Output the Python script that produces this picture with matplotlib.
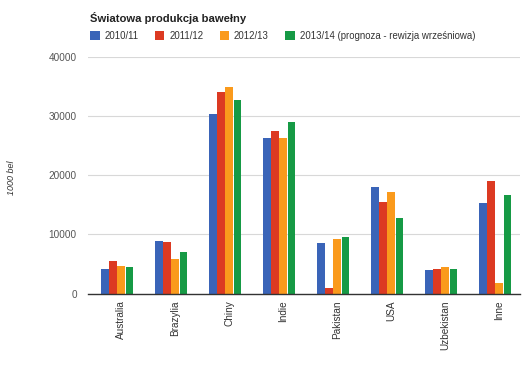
import numpy as np
import matplotlib
matplotlib.use('Agg')
import matplotlib.pyplot as plt

plt.rcParams['font.family'] = ['Liberation Sans', 'DejaVu Sans']

# dane (1000 bel)
kraje = ['Australia', 'Brazylia', 'Chiny', 'Indie', 'Pakistan', 'USA', 'Uzbekistan', 'Inne']
sezony = ['2010/11', '2011/12', '2012/13', '2013/14 (prognoza - rewizja wrześniowa)']
s2010 = [4100, 8900, 30400, 26250, 8550, 18050, 4000, 15350]
s2011 = [5450, 8700, 34000, 27400, 950, 15450, 4100, 19100]
s2012 = [4600, 5800, 34850, 26350, 9250, 17200, 4500, 1750]
s2013 = [4500, 7050, 32800, 28950, 9600, 12800, 4150, 16700]
kolory = ['#3a64b8', '#dc3a22', '#fa9a1c', '#169a45']

fig = plt.figure(figsize=(5.28, 3.73), dpi=100)
ax = fig.add_axes([88 / 528, 1 - 293.5 / 373, 432 / 528, 236.5 / 373])

x = np.arange(len(kraje))
w = 0.153
for i, (dane, kol) in enumerate(zip([s2010, s2011, s2012, s2013], kolory)):
    ax.bar(x + (i - 1.5) * w + 0.04, dane, width=w * 0.93, color=kol, label=sezony[i], zorder=3)

ax.set_xlim(-0.5, len(kraje) - 0.5)
ax.set_ylim(0, 40000)
ax.set_yticks([0, 10000, 20000, 30000, 40000])
ax.set_yticklabels(['0', '10000', '20000', '30000', '40000'], color='#555555', fontsize=7.2)
ax.set_xticks(x + 0.12)
ax.set_xticklabels(kraje, rotation=90, fontsize=7.2, color='#333333')
ax.tick_params(axis='x', length=0, pad=5)
ax.tick_params(axis='y', length=0, pad=8)
ax.grid(axis='y', color='#d8d8d8', linewidth=0.8, zorder=0)
for s in ['top', 'right', 'left']:
    ax.spines[s].set_visible(False)
ax.spines['bottom'].set_color('#333333')
ax.spines['bottom'].set_linewidth(1.0)
ax.spines['bottom'].set_zorder(4)

fig.text(12 / 528, 1 - 178 / 373, '1000 bel', rotation=90, style='italic',
         fontsize=6.5, color='#333333', ha='center', va='center')
fig.text(90 / 528, 1 - 18 / 373, 'Światowa produkcja bawełny', fontsize=8.1,
         fontweight='bold', color='#222222', ha='left', va='center')

ax.legend(loc='center left', bbox_to_anchor=(90 / 528, 1 - 36 / 373),
          bbox_transform=fig.transFigure, ncol=4, frameon=False,
          fontsize=6.9, handlelength=1.0, handleheight=1.0, handletextpad=0.5,
          columnspacing=1.7, borderaxespad=0.0, borderpad=0.0, labelcolor='#333333')

fig.savefig('out.png', dpi=100)
